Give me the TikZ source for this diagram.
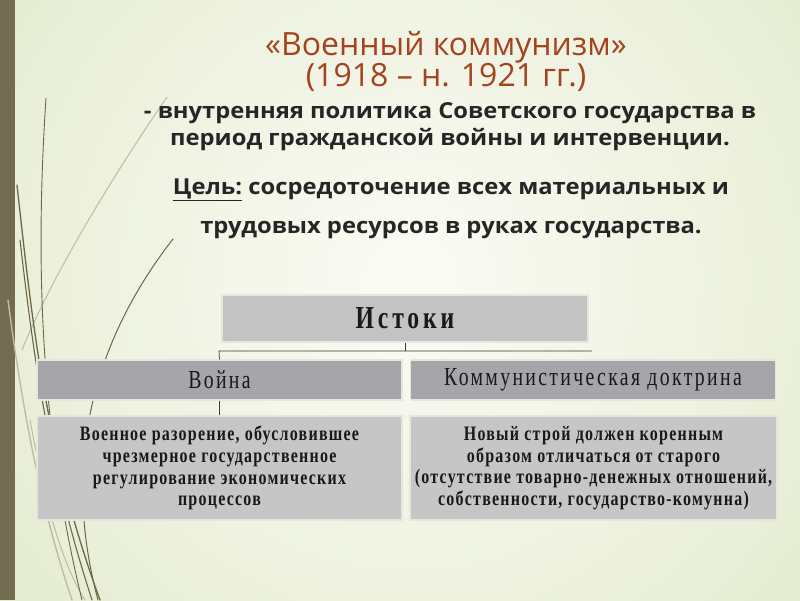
\documentclass[tikz,border=0pt]{standalone}
\usepackage{fontspec}
\setmainfont{Open Sans}
\newfontfamily\bodyfont[FakeStretch=1.08]{Open Sans}
\newfontfamily\hdfont[FakeStretch=0.74,LetterSpace=12]{Liberation Serif}
\newfontfamily\midfont[FakeStretch=0.76,LetterSpace=9]{Liberation Serif}
\newfontfamily\txtfont[FakeStretch=0.78,LetterSpace=6]{Liberation Serif}
\definecolor{bgout}{HTML}{D8E3BC}
\definecolor{bgin}{HTML}{FBFBF5}
\definecolor{stripe}{HTML}{736C50}
\definecolor{grassdark}{HTML}{6E6748}
\definecolor{grasslight}{HTML}{BDBE9C}
\definecolor{titlered}{HTML}{A3431F}
\definecolor{bodytext}{HTML}{262626}
\definecolor{boxlight}{HTML}{C3C3C3}
\definecolor{boxmid}{HTML}{A5A5AA}
\definecolor{boxlow}{HTML}{C6C6C6}
\definecolor{boxedge}{HTML}{E6E6DE}
\definecolor{conn}{HTML}{3A3A3A}
\tikzset{
  box/.style={fill=#1, draw=boxedge, line width=1.2pt, inner sep=0pt,
    text=black!90, align=center,
    path picture={\draw[black!65,line width=2pt]
      (path picture bounding box.south west) -- (path picture bounding box.south east);}},
  wbox/.style={minimum width=365pt},
  connline/.style={draw=conn, line width=0.7pt},
  grassd/.style={draw=grassdark, line cap=round},
  grassl/.style={draw=grasslight, line cap=round},
}
\begin{document}
\begin{tikzpicture}[x=1pt,y=-1pt]
\useasboundingbox (0,0) rectangle (800,600);
% background
\fill[bgout] (0,0) rectangle (800,600);
\begin{scope}
\clip (0,0) rectangle (800,600);
\shade[inner color=bgin, outer color=bgout] (410,280) circle (820);
\end{scope}
\fill[stripe] (0,0) rectangle (15,600);
% grass
\draw[grassl, line width=1pt] (167,97) .. controls (110,180) and (50,280) .. (22,350);
\draw[grassl, line width=1.4pt] (8,300) .. controls (25,430) and (45,520) .. (72,600);
\draw[grassl, line width=1pt] (30,420) .. controls (45,500) and (60,560) .. (85,600);
\draw[grassd, line width=0.9pt] (46,98) .. controls (36,250) and (38,420) .. (82,600);
\draw[grassd, line width=1.3pt] (17,185) .. controls (32,320) and (45,450) .. (100,600);
\draw[grassd, line width=1.1pt] (20,240) .. controls (35,370) and (50,470) .. (92,600);
\draw[grassd, line width=1pt] (173,239) .. controls (110,320) and (55,440) .. (98,600);
% title texts
\node[text=titlered, font=\fontsize{32}{31}\selectfont, align=center] (title) at (446,61)
  {«Военный коммунизм»\\(1918 – н. 1921 гг.)};
\node[text=bodytext, font=\bodyfont\fontsize{22}{27}\selectfont\bfseries, align=center] (def) at (450,127)
  {- внутренняя политика Советского государства в\\период гражданской войны и интервенции.};
\node[text=bodytext, font=\bodyfont\fontsize{22}{39}\selectfont\bfseries, align=center] (goal) at (451,209)
  {\underline{Цель:} сосредоточение всех материальных и\\трудовых ресурсов в руках государства.};
% boxes
\node[box=boxlight, minimum width=366pt, minimum height=47pt, font=\hdfont\bfseries\fontsize{32}{32}\selectfont] (ist) at (405,318.5) {Истоки};
\node[box=boxmid, wbox, minimum height=40pt, font=\midfont\fontsize{26}{26}\selectfont] (war) at (219.5,380) {Война};
\node[box=boxmid, wbox, minimum height=40pt, font=\midfont\fontsize{26}{26}\selectfont] (doc) at (593,380) {Коммунистическая доктрина};
\node[box=boxlow, wbox, minimum height=104pt, font=\txtfont\bfseries\fontsize{20.5}{21.7}\selectfont] (low1) at (219.5,468)
  {Военное разорение, обусловившее\\чрезмерное государственное\\регулирование экономических\\процессов};
\node[box=boxlow, minimum width=367pt, minimum height=104pt, font=\txtfont\bfseries\fontsize{20.5}{21.7}\selectfont] (low2) at (593.5,468)
  {Новый строй должен коренным\\образом отличаться от старого\\(отсутствие товарно-денежных отношений,\\собственности, государство-комунна)};
% connectors
\coordinate (hl) at (219,351);
\coordinate (hr) at (592,351);
\draw[connline] (ist.south) -- (ist.south |- hl);
\draw[connline] (war.north) -- (hl) -- (hr);
\draw[connline] (war.south) -- (low1.north);
\end{tikzpicture}
\end{document}
